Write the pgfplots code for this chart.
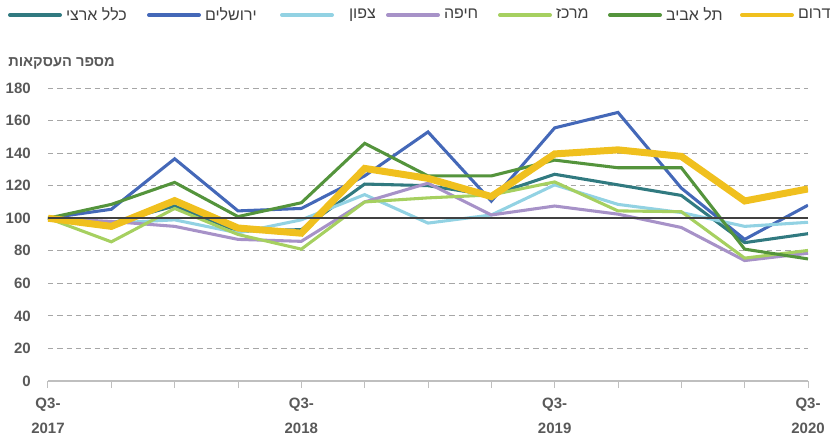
\documentclass[border=0pt]{standalone}
\usepackage{fontspec}
\usepackage{pgfplots}
\pgfplotsset{compat=1.18}
\setmainfont{Liberation Sans}
\newfontfamily\heb[Script=Hebrew]{Liberation Sans}
\TeXXeTstate=1
\definecolor{cTeal}{RGB}{49,122,128}
\definecolor{cBlue}{RGB}{68,104,184}
\definecolor{cLBlue}{RGB}{146,210,227}
\definecolor{cPurple}{RGB}{167,146,200}
\definecolor{cLGreen}{RGB}{166,208,96}
\definecolor{cDGreen}{RGB}{84,148,60}
\definecolor{cYellow}{RGB}{240,192,30}
\definecolor{cRef}{RGB}{64,64,64}
\definecolor{txtgray}{RGB}{89,89,89}
\definecolor{legtxt}{RGB}{64,64,64}
\definecolor{gridc}{RGB}{166,166,166}
\definecolor{axc}{RGB}{191,191,191}
\begin{document}
\begin{tikzpicture}
\useasboundingbox (-36pt,-44.25pt) rectangle (587.25pt,285.75pt);
\begin{axis}[
  at={(0,0)}, anchor=south west,
  scale only axis, width=570pt, height=219.75pt,
  xmin=0, xmax=12, ymin=0, ymax=180,
  axis x line*=bottom, axis y line*=left,
  y axis line style={draw=none},
  x axis line style={draw=axc, line width=1pt},
  xtick={0,...,12},
  xticklabels={{Q3-\\2017},{},{},{},{Q3-\\2018},{},{},{},{Q3-\\2019},{},{},{},{Q3-\\2020}},
  ytick={0,20,...,180},
  tick align=outside,
  major tick length=5.25pt,
  xtick style={draw=axc, line width=0.75pt},
  ytick style={draw=none},
  ymajorgrids, grid style={dash pattern=on 4pt off 3pt, gridc, line width=0.75pt},
  /pgf/number format/assume math mode=true,
  tick label style={text=txtgray},
  yticklabel style={anchor=east, inner sep=0pt, xshift=-7.5pt, font=\fontsize{11.25}{13}\selectfont\bfseries},
  xticklabel style={align=center, anchor=north, inner sep=0pt, yshift=-7.5pt, font=\fontsize{11.25}{18.75}\selectfont\bfseries},
  legend columns=7,
  legend style={at={(-0.05263,1.2491)}, anchor=west, draw=none, fill=none, inner sep=0pt, outer sep=0pt,
    font=\fontsize{12}{14}\selectfont\heb, text=legtxt, column sep=0pt, nodes={inner sep=0pt, outer sep=0pt}},
  legend image code/.code={\draw[#1, line width=3pt, line cap=round] (1.5pt,0pt) -- (39pt,0pt);},
]
\addplot[cTeal, line width=2.3pt] coordinates {(0,100)(1,97)(2,107.5)(3,92)(4,93)(5,121)(6,120)(7,114)(8,127)(9,120.5)(10,114)(11,85)(12,90.5)};
\addlegendentry{\makebox[63.75pt][l]{\hspace{3pt}\beginR כלל ארצי\endR}}
\addplot[cBlue, line width=2.3pt] coordinates {(0,100)(1,105.5)(2,136.5)(3,104.5)(4,106)(5,126)(6,153)(7,110.5)(8,155.5)(9,165)(10,118.5)(11,87)(12,108)};
\addlegendentry{\makebox[59.25pt][l]{\hspace{3pt}\beginR ירושלים\endR}}
\addplot[cLBlue, line width=2.3pt] coordinates {(0,100)(1,97)(2,99)(3,91)(4,99)(5,114.5)(6,97)(7,102)(8,120.5)(9,108.5)(10,103.5)(11,95)(12,97.5)};
\addlegendentry{\makebox[39pt][l]{\hspace{11.25pt}\beginR צפון\endR}}
\addplot[cPurple, line width=2.3pt] coordinates {(0,100)(1,98)(2,95)(3,87)(4,85.8)(5,110)(6,121.5)(7,102)(8,107.5)(9,102.5)(10,94.3)(11,74)(12,78.5)};
\addlegendentry{\makebox[43.5pt][l]{\hspace{3pt}\beginR חיפה\endR}}
\addplot[cLGreen, line width=2.3pt] coordinates {(0,100)(1,85.5)(2,106)(3,90)(4,81)(5,110)(6,112.5)(7,114.3)(8,122.3)(9,104.5)(10,104)(11,75.5)(12,80.2)};
\addlegendentry{\makebox[42pt][l]{\hspace{3pt}\beginR מרכז\endR}}
\addplot[cDGreen, line width=2.3pt] coordinates {(0,100)(1,108.5)(2,122)(3,101)(4,109.5)(5,146)(6,126)(7,126)(8,135.7)(9,131)(10,131)(11,81)(12,75)};
\addlegendentry{\makebox[58.5pt][l]{\hspace{3pt}\beginR תל אביב\endR}}
\addplot[cYellow, line width=5.25pt] coordinates {(0,100)(1,95)(2,110.8)(3,94)(4,90.8)(5,130.6)(6,124.5)(7,113.3)(8,139.5)(9,142)(10,138)(11,110.6)(12,118)};
\addlegendentry{\makebox[27pt][l]{\hspace{3pt}\beginR דרום\endR}}
\addplot[cRef, line width=1.9pt, forget plot] coordinates {(0,100)(12,100)};
\end{axis}
\node[anchor=west, inner sep=0pt, text=txtgray, font=\fontsize{11}{13}\selectfont\bfseries\heb] at (-30pt,238.5pt) {\beginR מספר העסקאות\endR};
\end{tikzpicture}
\end{document}
